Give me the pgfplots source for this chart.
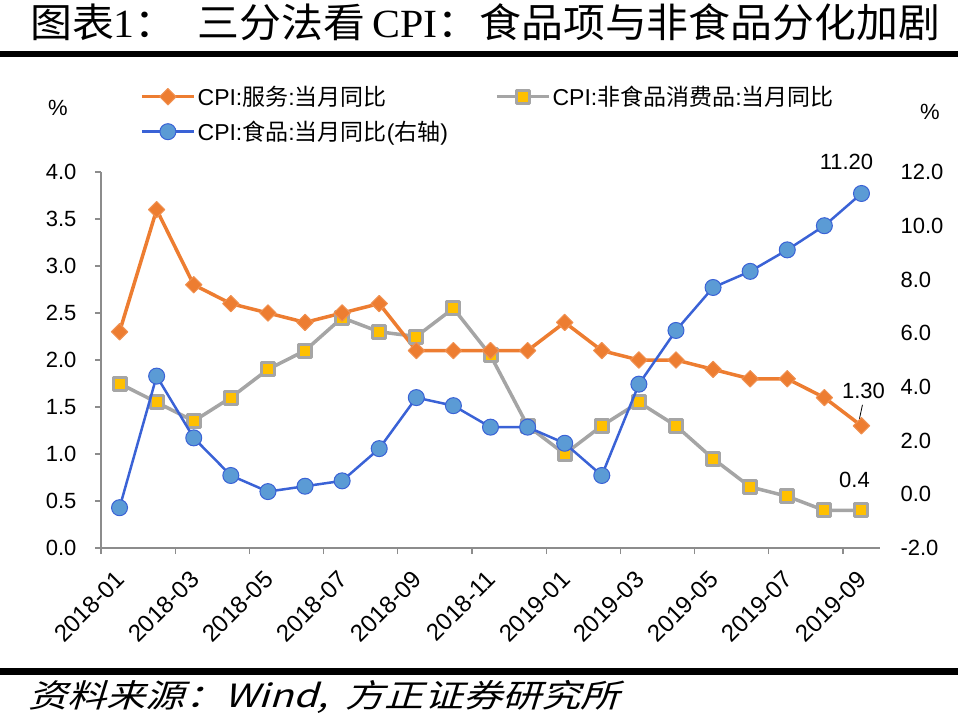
\documentclass[border=0pt]{standalone}
\usepackage{graphicx}
\usepackage{pgfplots}
\usepackage{pgfplotstable}
\pgfplotsset{compat=1.18}
\usepackage{fontspec}
\setmainfont{Liberation Sans}
\newfontfamily\cjk{Noto Sans CJK SC}
\newfontfamily\cjkslant[FakeSlant=0.25]{Noto Sans CJK SC}
\newfontfamily\titleserif{Liberation Serif}

\definecolor{svc}{HTML}{ED7D31}
\definecolor{nfline}{HTML}{A5A5A5}
\definecolor{nffill}{HTML}{FFC000}
\definecolor{foodline}{HTML}{3A62D6}
\definecolor{foodfill}{HTML}{5B9BD5}
\definecolor{axgray}{HTML}{8C8C8C}

% x = month index (points sit mid-month)
\pgfplotstableread{
x    svc  nf    food
0.5  2.3  1.75  -0.5
1.5  3.6  1.55  4.4
2.5  2.8  1.35  2.1
3.5  2.6  1.6   0.7
4.5  2.5  1.9   0.1
5.5  2.4  2.1   0.3
6.5  2.5  2.45  0.5
7.5  2.6  2.3   1.7
8.5  2.1  2.25  3.6
9.5  2.1  2.55  3.3
10.5 2.1  2.05  2.5
11.5 2.1  1.3   2.5
12.5 2.4  1.0   1.9
13.5 2.1  1.3   0.7
14.5 2.0  1.55  4.1
15.5 2.0  1.3   6.1
16.5 1.9  0.95  7.7
17.5 1.8  0.65  8.3
18.5 1.8  0.55  9.1
19.5 1.6  0.4   10.0
20.5 1.3  0.4   11.2
}\cpidata

\tikzset{ticknum/.style={font=\fontsize{22pt}{22pt}\selectfont}}
\pgfplotsset{
  svcstyle/.style={svc, line width=3.5pt, line join=round, mark=square*, mark size=5.8pt,
    mark options={rotate=45, fill=svc, draw=svc!85!white, line width=1pt, solid}},
  nfstyle/.style={nfline, line width=3.5pt, line join=round, mark=square*, mark size=6.5pt,
    mark options={fill=nffill, draw=nfline, line width=3pt, line join=round, solid}},
  foodstyle/.style={foodline, line width=2.5pt, line join=round, mark=*, mark size=8pt,
    mark options={fill=foodfill, draw=foodline, line width=1pt, solid}},
}

\begin{document}
\begin{tikzpicture}
\useasboundingbox (0pt,0pt) rectangle (958pt,721pt);

% title and rules
\node[anchor=west, inner sep=0pt] at (30pt,699pt) {\resizebox{910pt}{\height}{\fontsize{40pt}{40pt}\selectfont
  {\cjk 图表}{\titleserif 1}{\cjk ：}\hspace{20pt}{\cjk 三分法看}\,{\titleserif CPI}{\cjk ：食品项与非食品分化加剧}}};
\fill[black] (0pt,664pt) rectangle (958pt,670pt);
\fill[black] (0pt,46pt) rectangle (958pt,53pt);
\node[anchor=west, inner sep=0pt] at (28pt,24pt) {\resizebox{592pt}{\height}{\cjkslant\fontsize{32pt}{32pt}\selectfont 资料来源：Wind,\hspace{14pt}方正证券研究所}};

% unit labels
\node[ticknum] at (58pt,613pt) {\%};
\node[ticknum] at (930pt,609pt) {\%};

\begin{axis}[
  at={(101pt,173pt)}, anchor=south west,
  scale only axis, width=779pt, height=376pt,
  xmin=0, xmax=21, ymin=0, ymax=4,
  axis x line*=bottom, axis y line*=left,
  axis line style={axgray, line width=1.2pt},
  tick align=outside, major tick length=6pt,
  tick style={axgray, line width=1.2pt},
  xtick={0,2,...,20},
  xticklabels={2018-01,2018-03,2018-05,2018-07,2018-09,2018-11,2019-01,2019-03,2019-05,2019-07,2019-09},
  ytick={0,0.5,...,4},
  /pgf/number format/assume math mode=true,
  yticklabel={\pgfmathprintnumber[fixed,fixed zerofill,precision=1]{\tick}},
  xticklabel style={font=\fontsize{24pt}{24pt}\selectfont, xshift=22pt, yshift=-19pt, rotate=45, anchor=east},
  yticklabel style={ticknum, xshift=-15pt},
  clip=false,
]
\addplot[nfstyle] table[x=x, y=nf] {\cpidata};
\addplot[svcstyle] table[x=x, y=svc] {\cpidata};
\node[ticknum] at (axis cs:20.5,1.3) [xshift=2pt, yshift=35pt] {1.30};
\draw[black, line width=0.8pt] ([xshift=1pt, yshift=21pt]axis cs:20.5,1.3) -- ([xshift=-2pt, yshift=7pt]axis cs:20.5,1.3);
\node[ticknum] at (axis cs:20.5,0.4) [xshift=-7pt, yshift=30pt] {0.4};
\end{axis}

\begin{axis}[
  at={(101pt,173pt)}, anchor=south west,
  scale only axis, width=779pt, height=376pt,
  xmin=0, xmax=21, ymin=-2, ymax=12,
  hide x axis, axis y line*=right,
  y axis line style={draw=none},
  major tick length=0pt,
  ytick={-2,0,...,12},
  /pgf/number format/assume math mode=true,
  yticklabel={\pgfmathprintnumber[fixed,fixed zerofill,precision=1]{\tick}},
  yticklabel style={ticknum, xshift=17pt},
  clip=false,
  legend columns=2,
  legend cell align=left,
  legend image code/.code={\draw[mark repeat=2, mark phase=2, #1] plot coordinates {(0pt,0pt) (26pt,0pt) (52pt,0pt)};},
  legend style={at={(0.05,1.234)}, anchor=north west, draw=none, fill=none,
    inner sep=0pt, font=\fontsize{23pt}{23pt}\selectfont,
    row sep=10pt,
    /tikz/every even column/.append style={column sep=45pt}},
]
\addlegendimage{svcstyle}
\addlegendentry{CPI:{\cjk 服务}:{\cjk 当月同比}}
\addlegendimage{nfstyle}
\addlegendentry{CPI:{\cjk 非食品消费品}:{\cjk 当月同比}}
\addplot[foodstyle] table[x=x, y=food] {\cpidata};
\addlegendentry{CPI:{\cjk 食品}:{\cjk 当月同比}({\cjk 右轴})}
\node[ticknum] at (axis cs:20.5,11.2) [xshift=-15pt, yshift=32pt] {11.20};
\end{axis}
\end{tikzpicture}
\end{document}
